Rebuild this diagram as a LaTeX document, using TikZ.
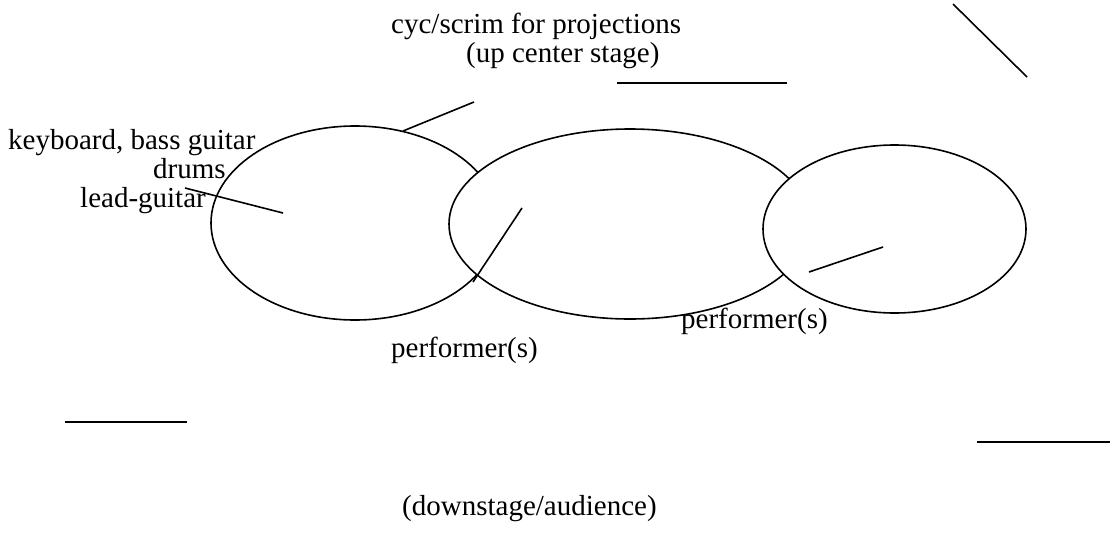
\documentclass[tikz,border=0pt]{standalone}
\usepackage{fontspec}
\setmainfont{Liberation Serif}
\begin{document}
\begin{tikzpicture}[x=1pt,y=-1pt,
  stroke/.style={line width=1.6pt,black},
  oval/.style={line width=1.6pt,draw=black,fill=white},
  lbl/.style={anchor=base west,inner sep=0pt,font=\fontsize{29}{29}\selectfont}]
\useasboundingbox (0,0) rectangle (1110,536);
% ellipses
\draw[oval] (355,223) ellipse [x radius=144, y radius=97];
\draw[oval] (630,224) ellipse [x radius=181, y radius=95];
\draw[oval] (894.5,229) ellipse [x radius=131.5, y radius=84];
% free line ends
\coordinate (a1) at (403,131); \coordinate (a2) at (474,102);
\coordinate (b1) at (185,188); \coordinate (b2) at (283,213);
\coordinate (c1) at (522,208); \coordinate (c2) at (473,282);
\coordinate (d1) at (809,272); \coordinate (d2) at (883,247);
\coordinate (e1) at (617,83);  \coordinate (e2) at (787,83);
\coordinate (f1) at (953,4);   \coordinate (f2) at (1027,77);
\coordinate (g1) at (65,422);  \coordinate (g2) at (187,422);
\coordinate (h1) at (977,442); \coordinate (h2) at (1110,442);
\draw[stroke] (a1) -- (a2);
\draw[stroke] (b1) -- (b2);
\draw[stroke] (c1) -- (c2);
\draw[stroke] (d1) -- (d2);
\draw[stroke] (e1) -- (e2);
\draw[stroke] (f1) -- (f2);
\draw[stroke] (g1) -- (g2);
\draw[stroke] (h1) -- (h2);
% texts
\node[lbl] (cyc) at (391,33) {cyc/scrim for projections};
\node[lbl] (up) at (466,62) {(up center stage)};
\node[lbl] (kb) at (8,149) {keyboard, bass guitar};
\node[lbl] (dr) at (153,178) {drums};
\node[lbl] (lg) at (80,207) {lead-guitar};
\node[lbl] (p1) at (391,357) {performer(s)};
\node[lbl] (p2) at (681,328) {performer(s)};
\node[lbl] (dn) at (402,515) {(downstage/audience)};
\end{tikzpicture}
\end{document}
